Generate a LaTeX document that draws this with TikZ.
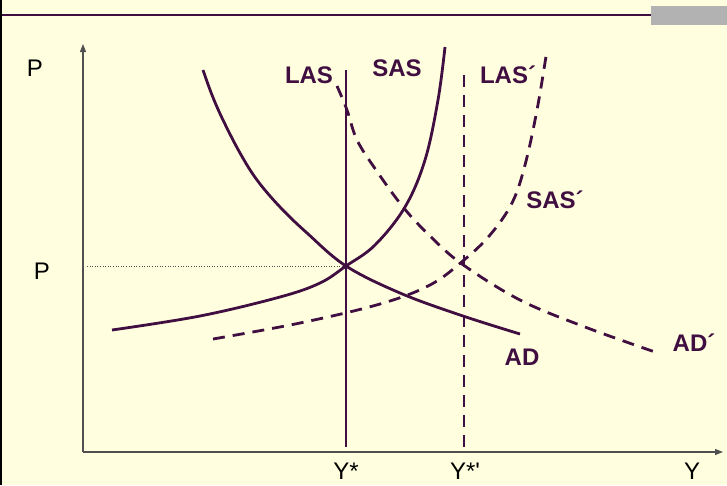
\documentclass[tikz,border=0pt]{standalone}
\usepackage{fontspec}
\setmainfont{Liberation Sans}
\newfontfamily\plainsans{Liberation Sans}
\usetikzlibrary{arrows.meta}
\definecolor{bgyellow}{RGB}{255,255,224}
\definecolor{curvecol}{RGB}{64,14,64}
\definecolor{axiscol}{RGB}{80,80,80}
\definecolor{graybar}{RGB}{178,178,178}
\tikzset{
  curve/.style={curvecol, line width=2.8pt},
  dcurve/.style={curvecol, line width=2.8pt, dash pattern=on 12pt off 8pt},
  axisline/.style={axiscol, line width=1.3pt, -{Triangle[length=8pt,width=6pt]}},
  lbl/.style={curvecol, font=\fontsize{24}{24}\selectfont\bfseries, inner sep=0pt},
  axlbl/.style={black, font=\plainsans\fontsize{24}{24}\selectfont, inner sep=0pt}
}
\begin{document}
\begin{tikzpicture}[x=1pt,y=-1pt]
\useasboundingbox (0,0) rectangle (727,485);
\fill[bgyellow] (0,0) rectangle (727,485);
% frame decorations
\fill[graybar] (651,6) rectangle (727,25);
\draw[curvecol, line width=2.2pt] (0,15) -- (651,15);
\draw[black, line width=2.5pt] (1.2,0) -- (1.2,485);
% axes
\coordinate (O) at (83,452);
\coordinate (ytop) at (83,44);
\coordinate (xend) at (723,452);
\draw[axisline] (O) -- (ytop);
\draw[axisline] (O) -- (xend);
% dotted price line
\coordinate (pl) at (87,266);
\coordinate (E) at (346,266);
\draw[axiscol, line width=0.6pt, dotted] (pl) -- (E);
% LAS and LAS'
\coordinate (las1) at (346,70);
\coordinate (las2) at (346,447);
\draw[curve] (las1) -- (las2);
\coordinate (lasp1) at (464,75);
\coordinate (lasp2) at (464,447);
\draw[dcurve] (lasp1) -- (lasp2);
% SAS
\draw[curve] plot[smooth, tension=0.6] coordinates {(112,330) (200,316) (280,297) (320,283) (346,266) (375,245) (405,207) (425,160) (438,100) (445,47)};
% SAS'
\draw[dcurve] plot[smooth, tension=0.6] coordinates {(213,339) (300,323) (380,304) (430,285) (464,260) (490,235) (512,203) (525,165) (537,110) (547,50)};
% AD
\draw[curve] plot[smooth, tension=0.6] coordinates {(203,70) (212,95) (223,120) (240,153) (257,180) (280,207) (307,233) (346,266) (400,293) (460,315) (520,334)};
% AD'
\draw[dcurve] plot[smooth, tension=0.6] coordinates {(337,86) (347,110) (357,140) (376,170) (403,207) (430,236) (462,264) (520,300) (585,327) (655,352)};
% labels
\node[lbl] (LAS) at (309,75) {LAS};
\node[lbl] (SAS) at (397,68) {SAS};
\node[lbl] (LASp) at (508,75) {LAS´};
\node[lbl] (SASp) at (555,200) {SAS´};
\node[lbl] (AD) at (522,357) {AD};
\node[lbl] (ADp) at (694,343) {AD´};
\node[axlbl] (P1) at (35,68) {P};
\node[axlbl] (P2) at (42,271) {P};
\node[axlbl] (Ys) at (346,471) {Y*};
\node[axlbl] (Ysp) at (465,471) {Y*'};
\node[axlbl] (Y) at (692,471) {Y};
\end{tikzpicture}
\end{document}
